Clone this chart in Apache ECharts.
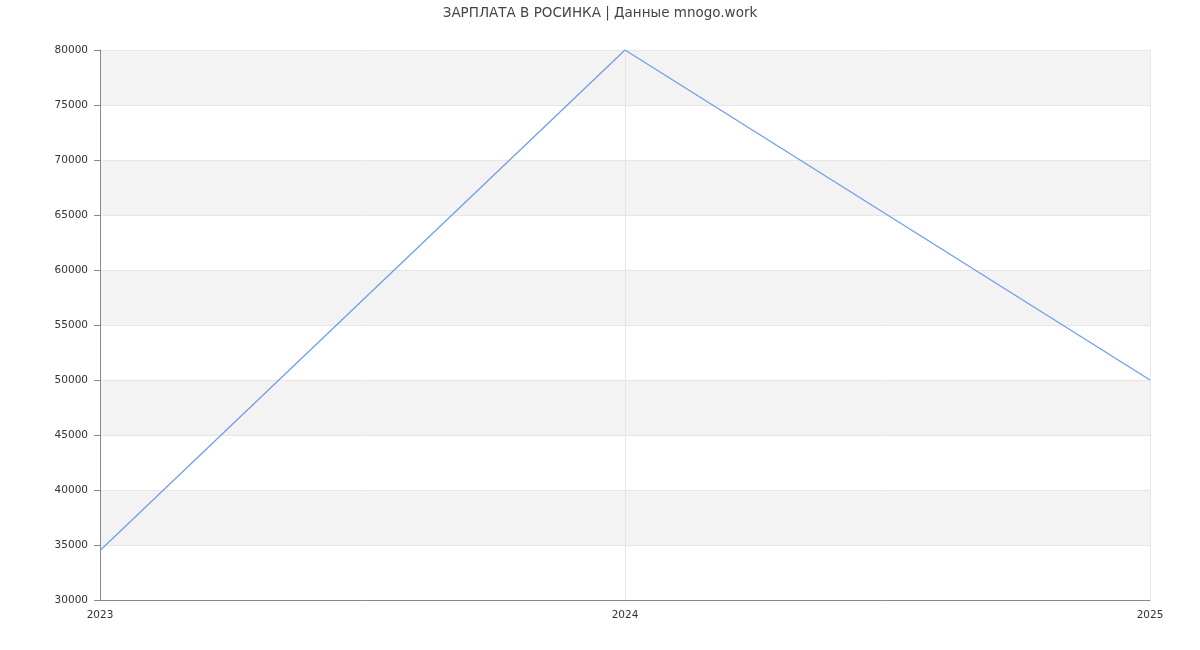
<!DOCTYPE html>
<html>
<head>
<meta charset="utf-8">
<script src="https://cdn.jsdelivr.net/npm/echarts@6/dist/echarts.min.js"></script>
<style>html,body{margin:0;padding:0;background:#fff}#c{width:1200px;height:650px}</style>
</head>
<body>
<div id="c"></div>
<script>
var titleText = 'ЗАРПЛАТА В РОСИНКА | Данные mnogo.work';
var years = ['2023', '2024', '2025'];
var salaries = [34500, 80000, 50000];

var chart = echarts.init(document.getElementById('c'), null, {renderer: 'canvas'});
chart.setOption({
  animation: false,
  backgroundColor: '#fff',
  textStyle: {fontFamily: 'DejaVu Sans'},
  title: {
    text: titleText,
    left: 'center',
    top: 1,
    textStyle: {fontFamily: 'DejaVu Sans', fontSize: 13.5, fontWeight: 'normal', color: '#444'}
  },
  grid: {left: 100, right: 50, top: 50, bottom: 50},
  xAxis: {
    type: 'category',
    data: years,
    boundaryGap: false,
    axisLine: {lineStyle: {color: '#888'}},
    axisTick: {show: false},
    axisLabel: {color: '#333', fontSize: 10.5, margin: 10},
    splitLine: {show: true, lineStyle: {color: '#e6e6e6'}}
  },
  yAxis: {
    type: 'value',
    min: 30000,
    max: 80000,
    interval: 5000,
    axisLine: {show: true, lineStyle: {color: '#888'}},
    axisTick: {show: true, length: 6, lineStyle: {color: '#888'}},
    axisLabel: {color: '#333', fontSize: 10.5, margin: 12, formatter: function (v) { return String(v); }},
    splitLine: {show: true, lineStyle: {color: '#e6e6e6'}},
    splitArea: {show: true, areaStyle: {color: ['#ffffff', '#f3f3f3']}}
  },
  series: [{
    type: 'line',
    data: salaries,
    showSymbol: false,
    symbol: 'none',
    lineStyle: {color: '#6d9bf1', width: 1.2}
  }]
});
</script>
</body>
</html>
